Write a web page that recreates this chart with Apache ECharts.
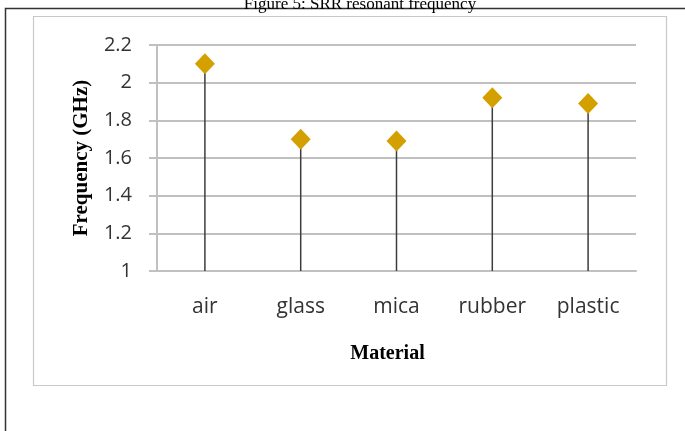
<!DOCTYPE html>
<html><head><meta charset="utf-8">
<script src="https://cdn.jsdelivr.net/npm/echarts@6/dist/echarts.min.js"></script>
<style>html,body{margin:0;padding:0;background:#fff}#c{width:685px;height:431px}</style>
</head><body><div id="c"></div>
<script>
const categories = ['air', 'glass', 'mica', 'rubber', 'plastic'];
const frequency = [2.1, 1.70, 1.69, 1.92, 1.89];
const yTicks = [1, 1.2, 1.4, 1.6, 1.8, 2, 2.2];

const chart = echarts.init(document.getElementById('c'));
chart.setOption({
  animation: false,
  title: {
    text: 'Figure 5: SRR resonant frequency',
    left: 355, textAlign: 'center', top: -9,
    textStyle: {fontFamily: 'Liberation Serif', fontWeight: 'normal', fontSize: 17, color: '#000'}
  },
  graphic: [
    {type: 'polyline', shape: {points: [[5.5, 432], [5.5, 8.5], [690, 8.5]]}, style: {stroke: '#333', lineWidth: 1.5, fill: null}, silent: true},
    {type: 'rect', shape: {x: 33.5, y: 16.5, width: 633, height: 369}, style: {stroke: '#c8c8c8', lineWidth: 1.2, fill: null}, silent: true}
  ],
  grid: {left: 157, right: 49, top: 45, bottom: 160, containLabel: false},
  xAxis: {
    type: 'category', data: categories,
    name: 'Material', nameLocation: 'middle', nameGap: 73,
    nameTextStyle: {fontFamily: 'Liberation Serif', fontWeight: 'bold', fontSize: 20, color: '#000', padding: [0, 18, 0, 0]},
    axisLine: {lineStyle: {color: '#c0c0c0', width: 2}},
    axisTick: {show: false},
    axisLabel: {fontFamily: 'Open Sans', fontSize: 21, color: '#333', margin: 26}
  },
  yAxis: {
    type: 'value', min: 1, max: 2.2, interval: 0.2,
    name: 'Frequency (GHz)', nameLocation: 'middle', nameGap: 65,
    nameTextStyle: {fontFamily: 'Liberation Serif', fontWeight: 'bold', fontSize: 21, color: '#000'},
    axisLine: {show: true, lineStyle: {color: '#c0c0c0', width: 2}},
    axisTick: {show: true, length: 8, lineStyle: {color: '#c0c0c0', width: 2}},
    axisLabel: {fontFamily: 'Open Sans', fontSize: 20, color: '#333', margin: 25,
      formatter: v => yTicks.includes(Math.round(v*10)/10) ? String(Math.round(v*10)/10) : ''},
    splitLine: {lineStyle: {color: '#c0c0c0', width: 2}}
  },
  series: [
    {type: 'bar', data: frequency, barWidth: 1.5, itemStyle: {color: '#3c3c3c'}, z: 2},
    {type: 'scatter', data: frequency, symbol: 'diamond', symbolSize: [20, 21], itemStyle: {color: '#d4a000', opacity: 1}, z: 3}
  ]
});
</script></body></html>
